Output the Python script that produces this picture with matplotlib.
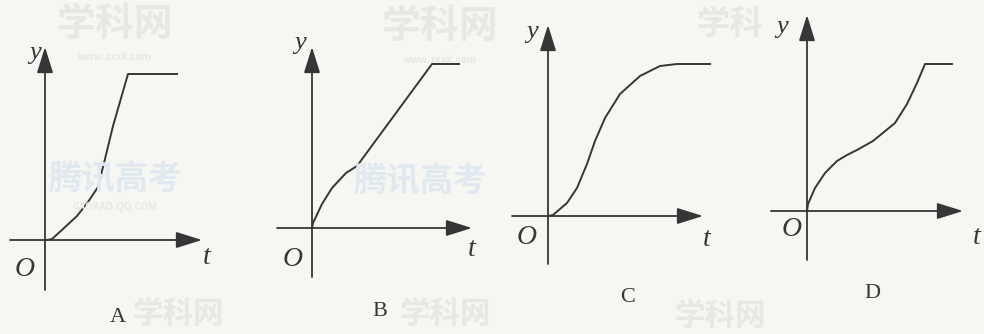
import matplotlib
matplotlib.use('Agg')
import matplotlib.pyplot as plt

W, H = 984, 334
backgroundColor = '#f6f6f3'
lineColor = '#363636'
markColor = '#e7e7e4'
blueMark = '#e0e8f0'

# curves (t to the right, y up, 1 unit ~ 1 px)
tA = [0, 2, 7, 18, 32, 43, 53, 60, 68, 83, 132]
yA = [0, 0, 1, 11, 24, 38, 53, 81, 114, 166, 166]

tB = [0, 1, 10, 20, 34, 45, 120, 147]
yB = [0, 5, 24, 40, 55, 62, 164, 164]

tC = [0, 5, 19, 29, 39, 47, 57, 72, 92, 112, 129, 162]
yC = [0, 1, 13, 28, 52, 75, 98, 122, 140, 150, 152, 152]

tD = [0, 1, 8, 18, 30, 40, 50, 66, 88, 100, 110, 118, 145]
yD = [0, 7, 23, 38, 50, 56, 61, 70, 88, 107, 128, 147, 147]

panelNames = ['A', 'B', 'C', 'D']
curves = [(tA, yA), (tB, yB), (tC, yC), (tD, yD)]

# layout: origin in scan pixels, axis extents, label offsets
origins = [(45, 240), (312, 228), (548, 216), (807, 211)]
extents = [(-35, 157, -50, 193), (-35, 160, -49, 181),
           (-36, 155, -48, 191), (-36, 156, -49, 196)]
yLabelPos = [(-10, 187), (-12, 185), (-16, 184), (-25, 184)]
oLabelPos = [(-20, -30), (-19, -32), (-21, -22), (-15, -19)]
tLabelPos = [(162, -17), (160, -22), (159, -24), (170, -26)]
letterPos = [(73, -78), (68, -84), (80, -81), (65, -82)]

fig = plt.figure(figsize=(W / 100, H / 100), dpi=100, facecolor=backgroundColor)

# faint watermarks of the scanned page
WATERMARKS = [
    ('学科网', 115, 24, 28, markColor),
    ('www.zxxk.com', 115, 57, 7, markColor),
    ('腾讯高考', 115, 180, 24, blueMark),
    ('GAOKAO.QQ.COM', 115, 207, 7, markColor),
    ('学科网', 178, 314, 22, markColor),
    ('学科网', 440, 26, 28, markColor),
    ('www.zxxk.com', 440, 60, 7, markColor),
    ('腾讯高考', 420, 182, 24, blueMark),
    ('学科网', 445, 314, 22, markColor),
    ('学科', 730, 24, 24, markColor),
    ('学科网', 720, 316, 22, markColor),
]
for txt, px, py, size, col in WATERMARKS:
    fig.text(px / W, 1 - py / H, txt, fontsize=size, color=col,
             family=['Noto Sans CJK SC', 'DejaVu Sans'], weight='bold',
             ha='center', va='center', zorder=0)


def drawPanel(i):
    ox, oy = origins[i]
    x0, x1, y0, y1 = extents[i]
    left, right, bottom, top = -60, 200, -110, 220
    ax = fig.add_axes([(ox + left) / W, (H - oy + bottom) / H,
                       (right - left) / W, (top - bottom) / H])
    ax.set_xlim(left, right)
    ax.set_ylim(bottom, top)
    ax.axis('off')
    ax.patch.set_alpha(0)

    arrow = dict(arrowstyle='-|>,head_length=0.8,head_width=0.25',
                 color=lineColor, lw=1.3, shrinkA=0, shrinkB=0,
                 mutation_scale=20)
    ax.annotate('', xy=(x1, 0), xytext=(x0, 0), arrowprops=arrow)
    ax.annotate('', xy=(0, y1), xytext=(0, y0), arrowprops=arrow)

    t, y = curves[i]
    ax.plot(t, y, color=lineColor, lw=1.4, solid_joinstyle='round')

    serif = 'Liberation Serif'
    ax.text(*yLabelPos[i], 'y', family=serif, style='italic', fontsize=19,
            color=lineColor, ha='center', va='center')
    ax.text(*oLabelPos[i], 'O', family=serif, style='italic', fontsize=20,
            color=lineColor, ha='center', va='center')
    ax.text(*tLabelPos[i], 't', family=serif, style='italic', fontsize=20,
            color=lineColor, ha='center', va='center')
    ax.text(*letterPos[i], panelNames[i], family=serif, fontsize=16,
            color=lineColor, ha='center', va='center', zorder=5)


for i in range(len(panelNames)):
    drawPanel(i)

fig.savefig('out.png', dpi=100, facecolor=backgroundColor)
